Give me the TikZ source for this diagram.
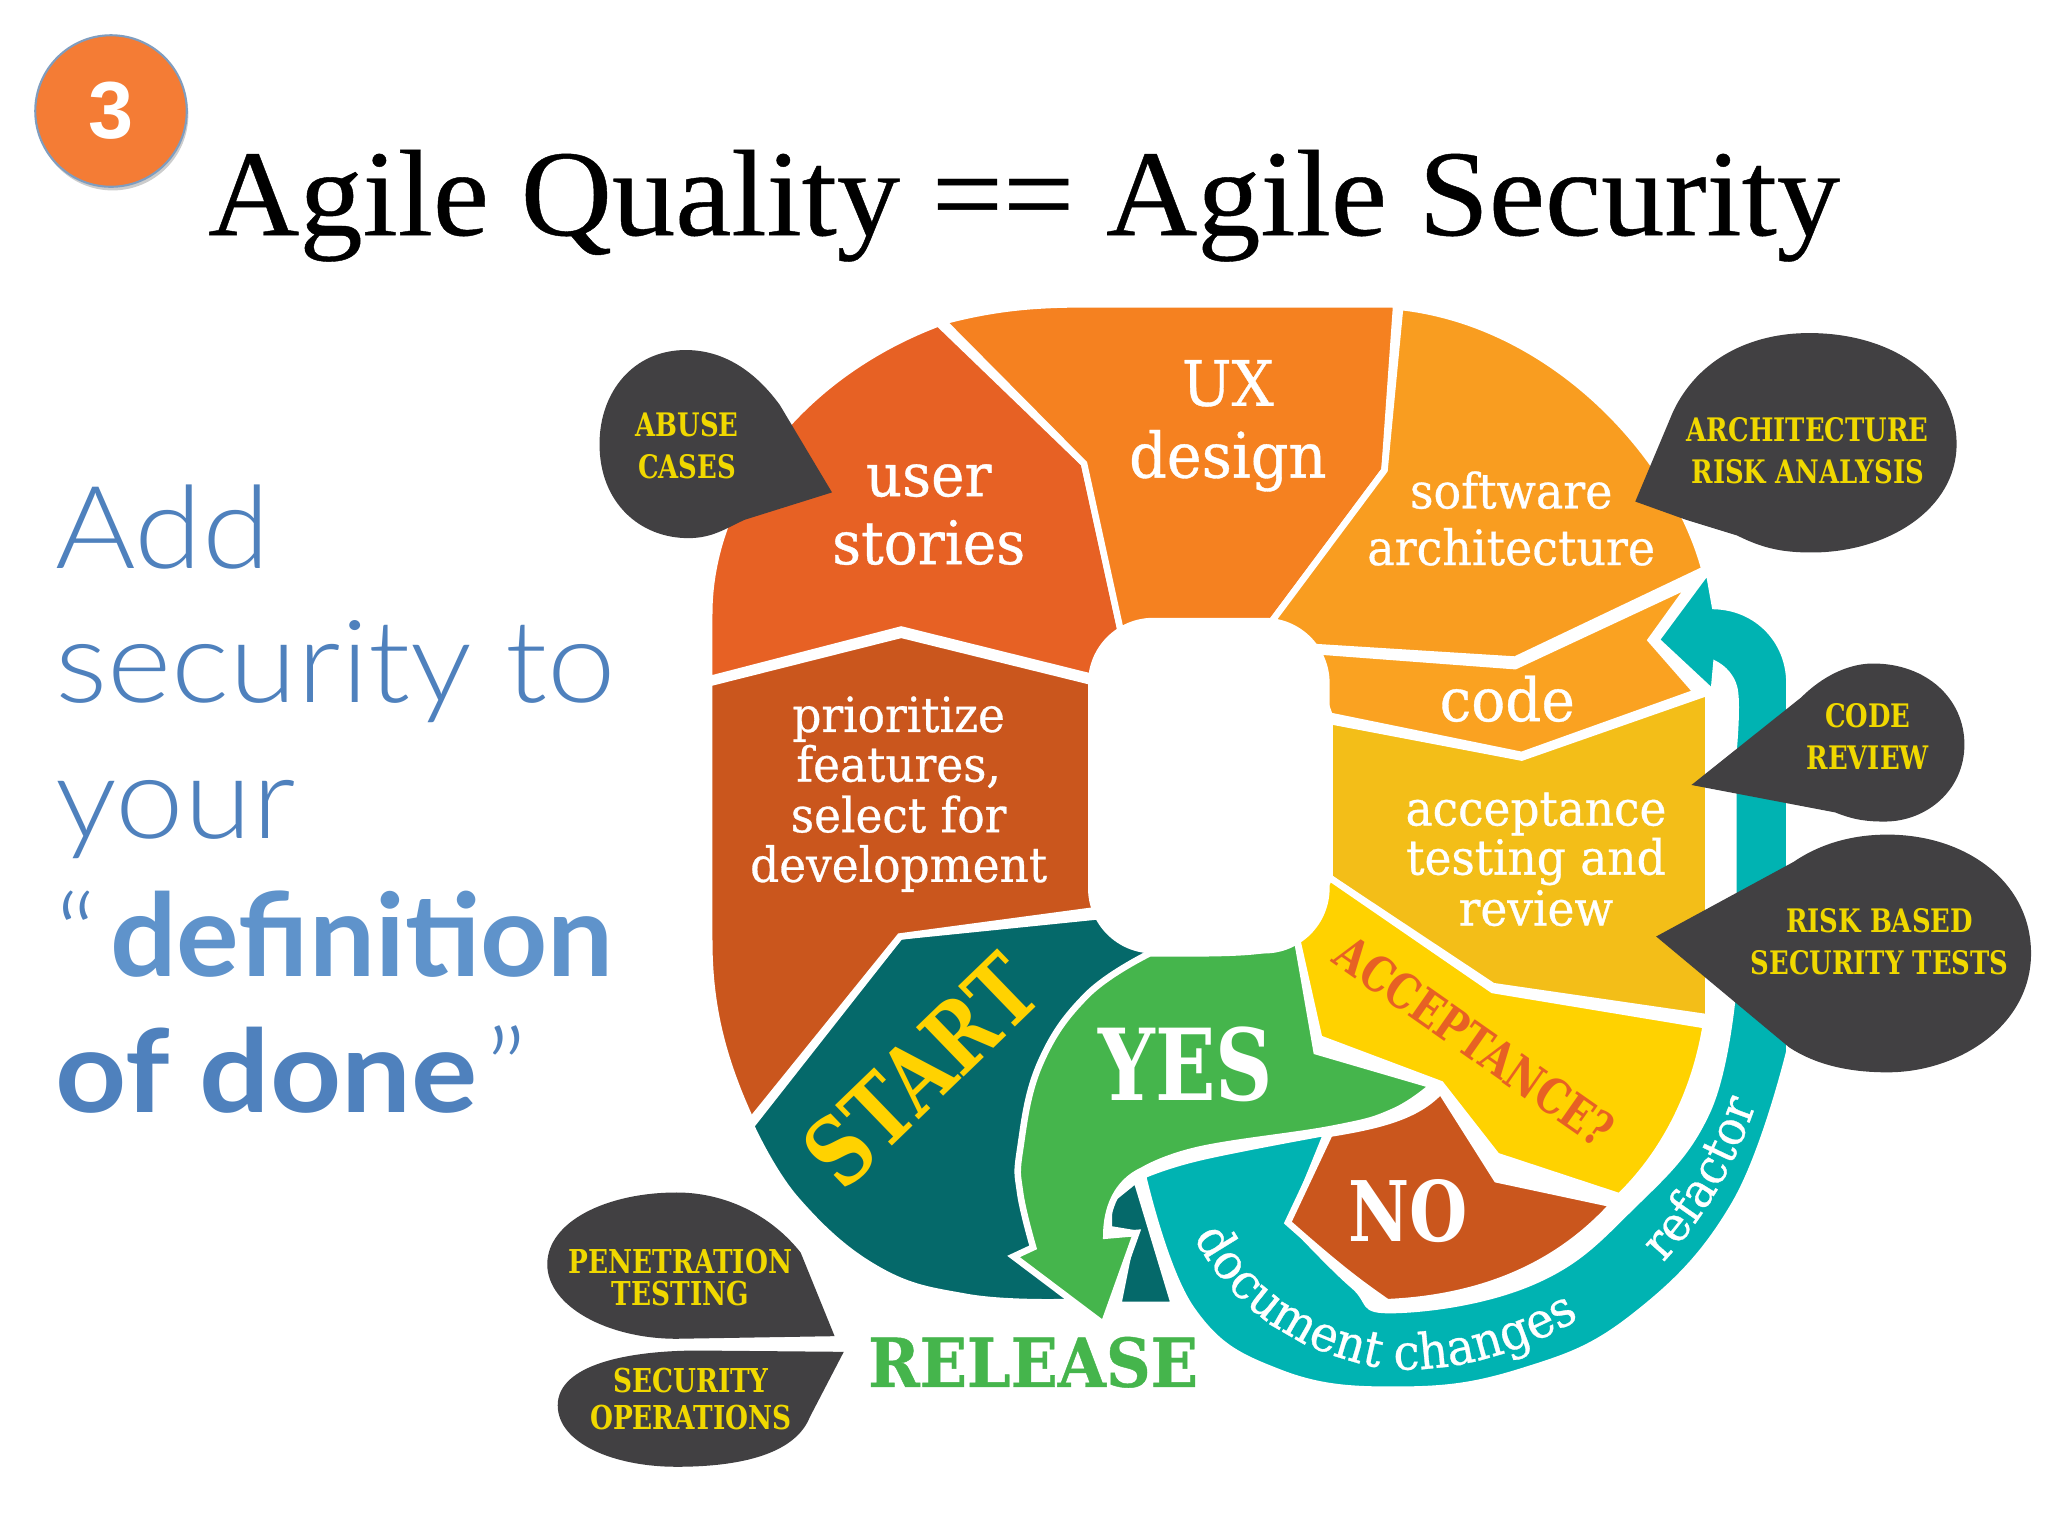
\documentclass[tikz,border=0pt]{standalone}
\usepackage{fontspec}
\usetikzlibrary{shadows,decorations.text}
\setmainfont{Liberation Serif}
\newfontfamily\titlef[FakeStretch=1.03,FakeBold=0.35]{Liberation Serif}
\newfontfamily\slab[FakeStretch=0.94,FakeBold=0.6]{DejaVu Serif}
\newfontfamily\slabb[FakeStretch=0.8]{DejaVu Serif Bold}
\newfontfamily\slabw[FakeStretch=0.92,FakeBold=0.6]{DejaVu Serif Bold}
\newfontfamily\lightf[FakeStretch=1.07]{Lato Light}
\newfontfamily\boldf[FakeStretch=1.02]{Lato Bold}
\newfontfamily\boldg[FakeStretch=1.08]{Lato Bold}
\newfontfamily\arialb{Liberation Sans Bold}
\newcommand\fsz[2]{\fontsize{#1pt}{#2pt}\selectfont}
\definecolor{cUser}{HTML}{E76124}
\definecolor{cUX}{HTML}{F58120}
\definecolor{cSoft}{HTML}{F99D20}
\definecolor{cCode}{HTML}{FAA221}
\definecolor{cTest}{HTML}{F3BE18}
\definecolor{cAcc}{HTML}{FFD200}
\definecolor{cRed}{HTML}{CA561D}
\definecolor{cStart}{HTML}{05696A}
\definecolor{cGreen}{HTML}{45B54C}
\definecolor{cTeal}{HTML}{00B3B2}
\definecolor{cBub}{HTML}{414042}
\definecolor{cBubT}{HTML}{F0D800}
\definecolor{cBlue}{HTML}{4F81BD}
\definecolor{cBlueB}{HTML}{5F93CB}
\definecolor{cBadge}{HTML}{F47C35}
\definecolor{cBadgeE}{HTML}{7F9DBF}
\tikzset{
 seg/.style={fill=#1,draw=white,line width=2.5pt,line join=miter},
 bub/.style={fill=cBub,draw=none},
 lab/.style={text=white,align=center,inner sep=0pt,font=\slab\fsz{#1}{#1}},
 blab/.style={text=white,align=center,inner sep=0pt,font=\slabb\fsz{#1}{#1}},
 tag/.style={text=cBubT,align=center,inner sep=0pt,font=\slabb\fsz{12.4}{16}},
 side/.style={text=cBlue,anchor=base west,inner sep=0pt},
}
\begin{document}
\begin{tikzpicture}[x=0.5pt,y=-0.5pt]
\useasboundingbox (0,0) rectangle (1568,1176);
\fill[white] (0,0) rectangle (1568,1176);
% badge
\node[circle,minimum size=58pt,fill=cBadge,draw=cBadgeE,line width=0.8pt,drop shadow={shadow xshift=0.6pt,shadow yshift=-1.4pt,opacity=.4},text=white,inner sep=0pt,font=\arialb\fsz{31}{31}] (badge) at (85,85) {3};
% title
\node[anchor=base,inner sep=0pt,font=\titlef\fsz{47}{47}] (title) at (784,180) {Agile Quality == Agile Security};
% side text
\node[side,font=\lightf\fsz{44}{44}] (s1) at (42,435) {Add};
\node[side,font=\lightf\fsz{44}{44}] (s2) at (42,538) {security to};
\node[side,font=\lightf\fsz{44}{44}] (s3) at (42,642) {your};
\node[side,font=\lightf\fsz{44}{44}] (s4) at (42,748) {“\hspace{5pt}\textcolor{cBlueB}{\boldf definition}};
\node[side,font=\lightf\fsz{44}{44}] (s5) at (42,852) {{\boldg of done}\hspace{3pt}”};
% dark teal start
\draw[seg=cStart] (689,717) -- (846,701) -- (880,727) -- (860,800) -- (830,960) -- (826,997) -- (810,997) -- plot[smooth,tension=.7] coordinates {(810,997) (740,993) (672,972) (610,919) (575,862)} -- cycle;
\draw[seg=cStart] (870,903) -- (849,920) -- (849,941) -- (867,944) -- (856,999) -- (899,999) -- cycle;
% teal
\draw[seg=cTeal] (875,900) -- plot[smooth,tension=.7] coordinates {(875,900) (919,886) (1016,867)} -- (988,936) -- plot[smooth,tension=.7] coordinates {(988,936) (1036,984) (1067,1003) (1174,981) (1250,923) (1307,851) (1327,757)} -- (1327,577) -- plot[smooth,tension=.7] coordinates {(1327,577) (1328,528) (1314,509)} -- (1312,531) -- (1268,490) -- (1308,436) -- (1313,464) .. controls (1345,465) and (1370,490) .. (1370,523) -- (1370,805) -- plot[smooth,tension=.7] coordinates {(1370,805) (1328,922) (1251,1008) (1165,1050) (1072,1064) (980,1051) (912,1002) (875,900)} -- cycle;
% green
\draw[seg=cGreen] (993,719) .. controls (975,730) and (950,730) .. (880,730) -- plot[smooth,tension=.7] coordinates {(880,730) (832,762) (796,815) (781,880) (781,913) (791,955)} -- (776,962) -- (845,1014) -- (870,944) -- (847,946) .. controls (847,925) and (855,905) .. (875,896) -- plot[smooth,tension=.7] coordinates {(875,896) (919,880) (1021,864) (1067,851) (1097,831)} -- (1008,805) -- cycle;
% segments
\draw[seg=cUser] (720,249) -- (830,355) -- (860,492) -- (835,518) -- (690,482) -- (543,520) -- (543,470) .. controls (543,380) and (610,288) .. (720,247) -- cycle;
\draw[seg=cRed] (543,523) -- (690,486) -- (836,522) -- (838,697) -- (689,717) -- (575,858) .. controls (553,810) and (543,770) .. (543,720) -- cycle;
\draw[seg=cUX] (722,246) .. controls (760,236) and (790,233) .. (830,233) -- (1069,233) -- (1060,360) -- (972,478) -- (860,492) -- (830,355) -- cycle;
\draw[seg=cSoft] (1072,235) .. controls (1190,248) and (1282,350) .. (1305,436) -- (1160,505) -- (1000,495) -- (972,478) -- (1060,360) -- cycle;
\draw[seg=cCode] (1000,498) -- (1160,510) -- (1295,447) -- (1264,490) -- (1299,530) -- (1165,578) -- (1018,548) -- cycle;
\draw[seg=cTest] (1018,552) -- (1165,580) -- (1308,530) -- (1308,779) -- (1143,755) -- (1018,672) -- cycle;
\draw[seg=cAcc] (1018,672) -- (1143,758) -- (1306,785) .. controls (1297,840) and (1272,885) .. (1240,916) -- (1146,885) -- (1103,830) -- (1010,795) -- (993,719) -- cycle;
\draw[seg=cRed] (1103,835) -- (1146,903) -- (1235,922) .. controls (1190,972) and (1130,994) .. (1062,997) .. controls (1045,985) and (1030,975) .. (986,936) -- (1018,868) .. controls (1055,862) and (1085,855) .. cycle;
% central hole
\fill[white,rounded corners=25pt] (833,473) rectangle (1018,730);
% bubbles
\fill[bub] (637,377) -- (597,310) .. controls (575,280) and (550,268) .. (525,268) .. controls (485,268) and (459,300) .. (459,340) .. controls (459,385) and (490,412) .. (527,412) .. controls (545,412) and (555,405) .. (570,398) -- cycle;
\fill[bub] (1252,384) -- (1281,315) .. controls (1300,275) and (1340,255) .. (1385,255) .. controls (1450,255) and (1498,290) .. (1498,340) .. controls (1498,390) and (1445,423) .. (1387,423) .. controls (1365,423) and (1350,420) .. (1330,410) -- (1291,398) -- cycle;
\fill[bub] (1295,601) -- (1379,534) .. controls (1395,518) and (1415,508) .. (1434,508) .. controls (1475,508) and (1504,535) .. (1504,570) .. controls (1504,605) and (1475,629) .. (1443,629) .. controls (1430,629) and (1420,628) .. (1405,622) -- cycle;
\fill[bub] (1268,717) -- (1373,660) .. controls (1395,645) and (1420,639) .. (1445,639) .. controls (1505,639) and (1555,675) .. (1555,730) .. controls (1555,785) and (1500,821) .. (1445,821) .. controls (1415,821) and (1390,815) .. (1370,802) -- cycle;
\fill[bub] (639,1023) -- (613,959) .. controls (590,930) and (555,913) .. (518,913) .. controls (465,913) and (419,935) .. (419,968) .. controls (419,1000) and (465,1025) .. (518,1025) -- cycle;
\fill[bub] (646,1035) -- (535,1034) .. controls (480,1034) and (427,1045) .. (427,1076) .. controls (427,1105) and (470,1123) .. (518,1123) .. controls (575,1123) and (610,1110) .. (620,1085) -- cycle;
% labels
\node[lab=23] (t1) at (711,394) {user\\[3pt]stories};
\node[lab=24] (t2) at (940,326) {UX\\[3.5pt]design};
\node[lab=18.7] (t3) at (1157,397) {software\\[3pt]architecture};
\node[lab=23] (t4) at (1154,535) {code};
\node[lab=18.5] (t5) at (1176,658) {acceptance\\[.3pt]testing and\\[1pt]review};
\node[lab=18.5] (t6) at (688,608) {prioritize\\[.5pt]features,\\[.9pt]select for\\[.5pt]development};
\node[blab=36,text=cAcc,rotate=44] (t7) at (705,820) {START};
\node[blab=38] (t8) at (908,815) {YES};
\node[blab=32] (t9) at (1078,927) {NO};
\node[blab=18.6,text=cUser,rotate=-35] (t10) at (1129,797) {ACCEPTANCE?};
\node[inner sep=0pt,text=cGreen,font=\slabw\fsz{25.8}{25.8}] (t11) at (791,1043) {RELEASE};
\path[postaction={decorate},decoration={text along path,text align=center,text color=white,text={|\slab\fsz{19}{19}|document changes}}] (903,925) .. controls (935,1000) and (990,1035) .. (1060,1048) .. controls (1115,1052) and (1175,1035) .. (1230,996);
\path[postaction={decorate},decoration={text along path,text align=center,text color=white,text={|\slab\fsz{18.5}{18.5}|refactor}}] (1268,972) .. controls (1305,935) and (1330,890) .. (1347,838);
\node[tag] (a1) at (526,341) {ABUSE\\CASES};
\node[tag] (a2) at (1384,345) {ARCHITECTURE\\RISK ANALYSIS};
\node[tag] (a3) at (1430,564) {CODE\\REVIEW};
\node[tag] (a4) at (1439,721) {RISK BASED\\SECURITY TESTS};
\node[tag,font=\slabb\fsz{12.6}{12}] (a5) at (521,978) {PENETRATION\\TESTING};
\node[tag,font=\slabb\fsz{12.6}{14}] (a6) at (529,1071) {SECURITY\\OPERATIONS};
\end{tikzpicture}
\end{document}
